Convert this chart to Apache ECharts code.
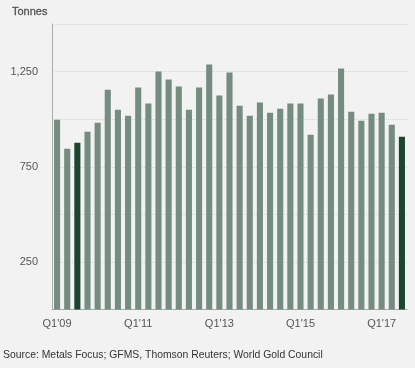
<!DOCTYPE html>
<html><head><meta charset="utf-8">
<script src="https://cdn.jsdelivr.net/npm/echarts@6/dist/echarts.min.js"></script>
<style>html,body{margin:0;padding:0;background:#f2f2f2;}#c{width:415px;height:368px;}</style>
</head><body><div id="c"></div>
<script>
var categories = [];
var years = ['09','10','11','12','13','14','15','16','17'];
for (var y = 0; y < years.length; y++) {
  for (var q = 1; q <= 4; q++) {
    if (years[y] === '17' && q === 4) break;
    categories.push('Q' + q + "'" + years[y]);
  }
}
var values = [997, 845, 876, 934, 981, 1155, 1050, 1018, 1166, 1082,
              1250, 1208, 1171, 1050, 1166, 1287, 1124, 1245, 1071, 1018,
              1087, 1034, 1055, 1082, 1082, 918, 1108, 1129, 1266, 1039,
              992, 1029, 1034, 971, 908];
var highlighted = ["Q3'09", "Q3'17"];
var yTickLabels = [250, 750, 1250];

var chart = echarts.init(document.getElementById('c'));
chart.setOption({
  backgroundColor: '#f2f2f2',
  animation: false,
  title: [
    {text: 'Tonnes', left: 12, top: 6, padding: 0, textStyle: {fontFamily: 'Liberation Sans', fontSize: 11, fontWeight: 'normal', color: '#555', textBorderColor: '#555', textBorderWidth: 0.3}},
    {text: 'Source: Metals Focus; GFMS, Thomson Reuters; World Gold Council', left: 3, top: 350, padding: 0, textStyle: {fontFamily: 'Liberation Sans', fontSize: 10.4, fontWeight: 'normal', color: '#333'}}
  ],
  grid: {left: 52, right: 8, top: 24, bottom: 58.5, containLabel: false},
  xAxis: {
    type: 'category', data: categories,
    axisLine: {lineStyle: {color: '#aaa', width: 1}},
    axisTick: {show: false},
    axisLabel: {interval: 7, color: '#555', fontFamily: 'Liberation Sans', fontSize: 11, margin: 9},
    splitLine: {show: false}
  },
  yAxis: {
    type: 'value', min: 0, max: 1500, interval: 250,
    axisLine: {show: true, lineStyle: {color: '#aaa'}},
    axisTick: {show: false},
    axisLabel: {color: '#555', fontFamily: 'Liberation Sans', fontSize: 11, margin: 14,
      formatter: function (v) { return yTickLabels.indexOf(v) >= 0 ? v.toLocaleString('en-US') : ''; }},
    splitLine: {lineStyle: {color: '#d4d4d4', type: 'dotted', width: 1}}
  },
  series: [{
    type: 'bar',
    data: values.map(function (v, i) {
      return {value: v, itemStyle: {color: highlighted.indexOf(categories[i]) >= 0 ? '#1c4530' : '#758c80'}};
    }),
    barCategoryGap: '40%'
  }]
});
</script></body></html>
